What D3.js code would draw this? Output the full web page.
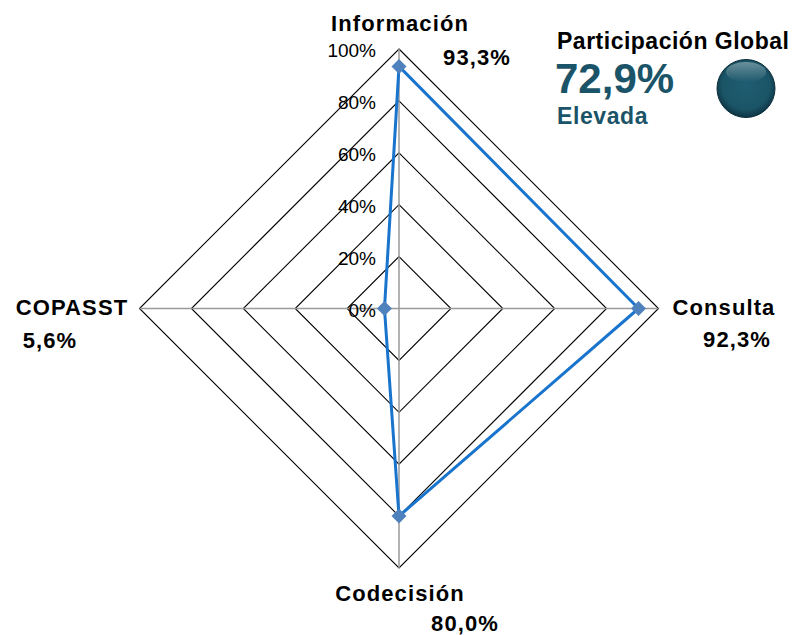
<!DOCTYPE html>
<html>
<head>
<meta charset="utf-8">
<script src="https://cdn.jsdelivr.net/npm/d3@7"></script>
<style>
  body { margin: 0; background: #fff; }
  svg { display: block; font-family: "Liberation Sans", Arial, sans-serif; }
  .cat { font-size: 22px; font-weight: bold; fill: #000; letter-spacing: 1.1px; }
  .tick { font-size: 19px; fill: #000; }
</style>
</head>
<body>
<div id="chart"></div>
<script>
var categories = ['Información', 'Consulta', 'Codecisión', 'COPASST'],
    values = [0.933, 0.923, 0.800, 0.056],
    valueLabels = ['93,3%', '92,3%', '80,0%', '5,6%'],
    ticks = [0, 0.2, 0.4, 0.6, 0.8, 1],
    tickLabels = ['0%', '20%', '40%', '60%', '80%', '100%'],
    globalTitle = 'Participación Global',
    globalValue = '72,9%',
    globalLevel = 'Elevada';

var width = 792, height = 635,
    cx = 399, cy = 308.5,
    radius = 259.5;

var svg = d3.select('#chart').append('svg')
    .attr('width', width)
    .attr('height', height);

var r = d3.scaleLinear().domain([0, 1]).range([0, radius]);
var angle = d3.scaleBand().domain(categories).range([0, 2 * Math.PI]);
var ang = function(c) { return angle(c) - Math.PI / 2; };
var pt = function(c, v) { return [cx + r(v) * Math.cos(ang(c)), cy + r(v) * Math.sin(ang(c))]; };

var line = d3.line();

var chart = svg.append('g');

// grid rings
chart.selectAll('.ring')
    .data(ticks.slice(1))
    .enter()
    .append('path')
    .attr('class', 'ring')
    .attr('fill', 'none')
    .attr('stroke', '#000')
    .attr('stroke-width', 1.1)
    .attr('d', function(t) {
        return line(categories.map(function(c) { return pt(c, t); })) + 'Z';
    });

// spokes
chart.selectAll('.spoke')
    .data(categories)
    .enter()
    .append('line')
    .attr('class', 'spoke')
    .attr('stroke', '#9a9a9a')
    .attr('stroke-width', 1.5)
    .attr('x1', cx).attr('y1', cy)
    .attr('x2', function(c) { return pt(c, 1)[0]; })
    .attr('y2', function(c) { return pt(c, 1)[1]; });

// tick labels
chart.selectAll('.tick')
    .data(ticks)
    .enter()
    .append('text')
    .attr('class', 'tick')
    .attr('text-anchor', 'end')
    .attr('x', cx - 23)
    .attr('y', function(t) { return cy - r(t) + 8; })
    .text(function(t, i) { return tickLabels[i]; });

// series
var pts = categories.map(function(c, i) { return pt(c, values[i]); });
chart.append('path')
    .attr('fill', 'none')
    .attr('stroke', '#1874CD')
    .attr('stroke-width', 3)
    .attr('stroke-linejoin', 'round')
    .attr('d', line(pts) + 'Z');

chart.selectAll('.marker')
    .data(pts)
    .enter()
    .append('path')
    .attr('class', 'marker')
    .attr('fill', '#4F81BD')
    .attr('transform', function(d) { return 'translate(' + d[0] + ',' + d[1] + ')'; })
    .attr('d', 'M0,-7.5L7.5,0L0,7.5L-7.5,0Z');

// category labels
var labelPos = [
    {x: 400, y: 31, vx: 477, vy: 65},
    {x: 724, y: 315, vx: 737, vy: 347},
    {x: 400, y: 601, vx: 465, vy: 631},
    {x: 72, y: 315, vx: 50, vy: 348}
];

chart.selectAll('.cat')
    .data(categories)
    .enter()
    .append('text')
    .attr('class', 'cat')
    .attr('text-anchor', 'middle')
    .attr('x', function(c, i) { return labelPos[i].x; })
    .attr('y', function(c, i) { return labelPos[i].y; })
    .text(function(c) { return c; });

chart.selectAll('.val')
    .data(valueLabels)
    .enter()
    .append('text')
    .attr('class', 'cat')
    .attr('text-anchor', 'middle')
    .attr('x', function(v, i) { return labelPos[i].vx; })
    .attr('y', function(v, i) { return labelPos[i].vy; })
    .text(function(v) { return v; });

// global participation box
var defs = svg.append('defs');
var grad = defs.append('radialGradient')
    .attr('id', 'ball')
    .attr('cx', '50%').attr('cy', '45%').attr('r', '55%');
grad.append('stop').attr('offset', '0%').attr('stop-color', '#1f5d72');
grad.append('stop').attr('offset', '75%').attr('stop-color', '#1a5466');
grad.append('stop').attr('offset', '100%').attr('stop-color', '#0d3443');
var hl = defs.append('linearGradient')
    .attr('id', 'shine')
    .attr('x1', 0).attr('y1', 0).attr('x2', 0).attr('y2', 1);
hl.append('stop').attr('offset', '0%').attr('stop-color', '#fff').attr('stop-opacity', 0.35);
hl.append('stop').attr('offset', '100%').attr('stop-color', '#fff').attr('stop-opacity', 0);

svg.append('text')
    .attr('x', 557).attr('y', 49)
    .style('font-size', '23px')
    .style('font-weight', 'bold')
    .style('letter-spacing', '0.5px')
    .text(globalTitle);

svg.append('text')
    .attr('x', 555).attr('y', 93)
    .attr('fill', '#1B5468')
    .style('font-size', '42px')
    .style('font-weight', 'bold')
    .text(globalValue);

svg.append('text')
    .attr('x', 557).attr('y', 124)
    .attr('fill', '#1B5468')
    .style('font-size', '23px')
    .style('font-weight', 'bold')
    .style('letter-spacing', '0.6px')
    .text(globalLevel);

svg.append('circle')
    .attr('cx', 746).attr('cy', 88.5).attr('r', 29)
    .attr('fill', 'url(#ball)')
    .attr('stroke', '#0c2f3c')
    .attr('stroke-width', 1);

svg.append('ellipse')
    .attr('cx', 746).attr('cy', 72).attr('rx', 20).attr('ry', 10)
    .attr('fill', 'url(#shine)');
</script>
</body>
</html>
